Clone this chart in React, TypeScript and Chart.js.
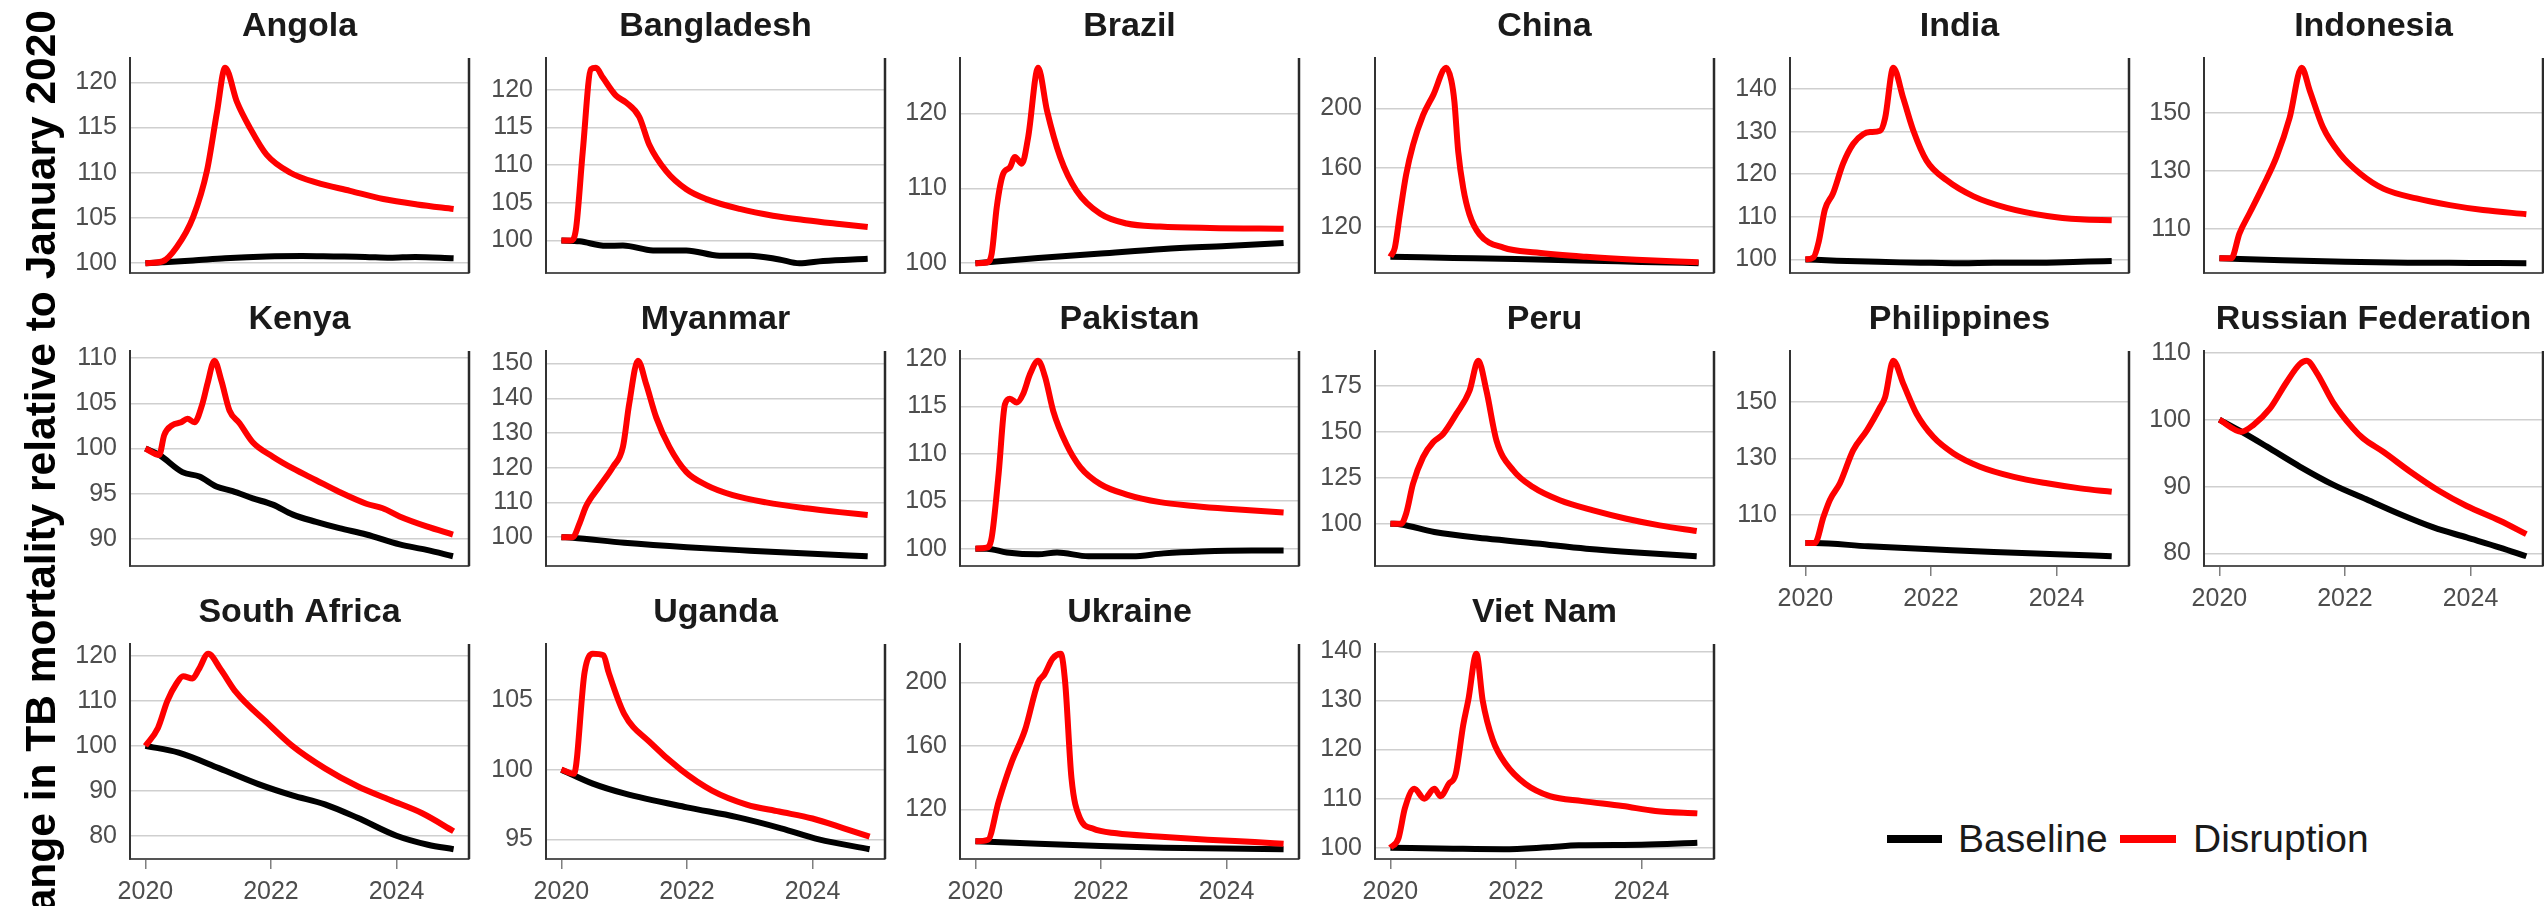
import React, { useEffect, useRef } from "react";
import { Chart, registerables } from "chart.js";

Chart.register(...registerables);

// ---------------- data ----------------
const countries = [
  "Angola", "Bangladesh", "Brazil", "China", "India", "Indonesia",
  "Kenya", "Myanmar", "Pakistan", "Peru", "Philippines", "Russian Federation",
  "South Africa", "Uganda", "Ukraine", "Viet Nam",
];
const seriesNames = ["Baseline", "Disruption"];
const xTickValues = [2020, 2022, 2024];
const yAxisTitle = "Change in TB mortality relative to January 2020";

const angolaYears = [2020.0, 2020.27, 2020.5, 2020.76, 2020.98, 2021.14, 2021.27, 2021.46, 2021.67, 2021.93, 2022.31, 2022.73, 2023.26, 2023.79, 2024.33, 2024.91];
const angolaDisruption = [100, 100.2, 101.8, 105.1, 110.2, 116.7, 121.6, 117.8, 114.9, 112.0, 110.0, 108.9, 108.0, 107.1, 106.5, 106.0];
const angolaBaseYears = [2020.0, 2020.27, 2020.76, 2021.27, 2021.93, 2022.5, 2023.0, 2023.5, 2023.9, 2024.3, 2024.91];
const angolaBaseline = [100, 100.1, 100.3, 100.55, 100.75, 100.8, 100.75, 100.7, 100.6, 100.7, 100.55];
const angolaTicks = [100, 105, 110, 115, 120];

const bangladeshYears = [2020.0, 2020.15, 2020.23, 2020.34, 2020.47, 2020.55, 2020.66, 2020.87, 2021.03, 2021.24, 2021.40, 2021.67, 2021.99, 2022.31, 2022.84, 2023.37, 2023.90, 2024.43, 2024.88];
const bangladeshDisruption = [100, 100, 101.4, 111.8, 122.7, 122.9, 121.6, 119.2, 118.3, 116.4, 112.7, 109.2, 106.8, 105.5, 104.2, 103.3, 102.7, 102.2, 101.8];
const bangladeshBaseYears = [2020.0, 2020.29, 2020.71, 2020.98, 2021.46, 2021.99, 2022.52, 2023.0, 2023.47, 2023.79, 2024.17, 2024.88];
const bangladeshBaseline = [100, 99.9, 99.3, 99.35, 98.7, 98.7, 98.0, 98.0, 97.5, 97.0, 97.3, 97.6];
const bangladeshTicks = [100, 105, 110, 115, 120];

const brazilYears = [2020.0, 2020.18, 2020.26, 2020.34, 2020.44, 2020.55, 2020.63, 2020.74, 2020.84, 2021.0, 2021.14, 2021.35, 2021.61, 2021.99, 2022.41, 2022.94, 2023.74, 2024.91];
const brazilDisruption = [100, 100.1, 101.3, 107.5, 111.9, 112.8, 114.2, 113.3, 116.8, 126.1, 120.4, 114.2, 109.7, 106.6, 105.3, 104.9, 104.7, 104.6];
const brazilBaseYears = [2020.0, 2021.0, 2022.0, 2023.0, 2024.0, 2024.91];
const brazilBaseline = [100, 100.7, 101.3, 101.9, 102.3, 102.7];
const brazilTicks = [100, 110, 120];

const chinaYears = [2020.0, 2020.07, 2020.15, 2020.25, 2020.36, 2020.52, 2020.68, 2020.89, 2020.97, 2021.02, 2021.08, 2021.16, 2021.26, 2021.42, 2021.80, 2022.33, 2023.12, 2023.92, 2024.91];
const chinaDisruption = [100, 106, 128.5, 155.3, 175.4, 195.5, 208.9, 227.5, 219, 204.5, 171, 146.4, 128.5, 115.1, 106.1, 102.8, 99.9, 97.9, 96.2];
const chinaBaseYears = [2020.0, 2021.0, 2022.0, 2023.0, 2024.0, 2024.91];
const chinaBaseline = [100, 99.2, 98.4, 97.5, 96.5, 95.6];
const chinaTicks = [120, 160, 200];

const indiaYears = [2020.0, 2020.13, 2020.21, 2020.31, 2020.44, 2020.60, 2020.76, 2020.92, 2021.03, 2021.19, 2021.27, 2021.40, 2021.56, 2021.72, 2021.93, 2022.25, 2022.68, 2023.21, 2023.85, 2024.38, 2024.88];
const indiaDisruption = [100, 100.5, 104, 111.7, 115.5, 122.5, 127.1, 129.4, 129.9, 130.2, 133.2, 145.0, 137.8, 130.2, 123.2, 118.6, 114.8, 112.1, 110.2, 109.4, 109.2];
const indiaBaseYears = [2020.0, 2020.5, 2021.0, 2021.5, 2022.0, 2022.5, 2023.0, 2023.5, 2024.0, 2024.5, 2024.88];
const indiaBaseline = [100, 99.7, 99.5, 99.3, 99.2, 99.1, 99.2, 99.2, 99.3, 99.5, 99.6];
const indiaTicks = [100, 110, 120, 130, 140];

const indonesiaYears = [2020.0, 2020.19, 2020.32, 2020.48, 2020.69, 2020.91, 2021.12, 2021.31, 2021.44, 2021.65, 2021.92, 2022.24, 2022.61, 2023.14, 2023.67, 2024.20, 2024.89];
const indonesiaDisruption = [100, 100, 108.6, 115.5, 124.6, 134.9, 148.5, 165.6, 157.7, 145.1, 136, 129.2, 124, 120.6, 118.3, 116.6, 115.2];
const indonesiaBaseYears = [2020.0, 2021.0, 2022.0, 2023.0, 2024.0, 2024.89];
const indonesiaBaseline = [100, 99.3, 98.8, 98.5, 98.4, 98.3];
const indonesiaTicks = [110, 130, 150];

const kenyaYears = [2020.0, 2020.22, 2020.30, 2020.43, 2020.57, 2020.67, 2020.78, 2020.91, 2020.99, 2021.10, 2021.21, 2021.34, 2021.50, 2021.71, 2022.03, 2022.35, 2022.72, 2023.09, 2023.52, 2023.78, 2024.05, 2024.48, 2024.90];
const kenyaDisruption = [100, 99.3, 101.5, 102.6, 102.9, 103.3, 102.9, 105, 107.2, 109.7, 107.5, 104.2, 102.8, 100.7, 99.1, 97.8, 96.5, 95.2, 93.9, 93.4, 92.5, 91.4, 90.5];
const kenyaBaseYears = [2020.0, 2020.22, 2020.59, 2020.86, 2021.13, 2021.39, 2021.71, 2022.03, 2022.35, 2022.72, 2023.09, 2023.52, 2024.05, 2024.48, 2024.90];
const kenyaBaseline = [100, 99.3, 97.4, 96.9, 95.8, 95.3, 94.5, 93.8, 92.7, 91.9, 91.2, 90.5, 89.4, 88.8, 88.1];
const kenyaTicks = [90, 95, 100, 105, 110];

const myanmarYears = [2020.0, 2020.18, 2020.29, 2020.39, 2020.60, 2020.82, 2020.98, 2021.08, 2021.22, 2021.35, 2021.51, 2021.72, 2021.99, 2022.31, 2022.73, 2023.26, 2023.90, 2024.43, 2024.88];
const myanmarDisruption = [100, 100, 104, 108.8, 114.5, 120.2, 126, 138.4, 150.8, 144.1, 134.5, 126, 118.8, 115, 112.1, 110, 108.3, 107.2, 106.4];
const myanmarBaseYears = [2020.0, 2020.18, 2021.0, 2022.0, 2023.0, 2024.0, 2024.88];
const myanmarBaseline = [100, 99.8, 98.4, 97.1, 96.1, 95.2, 94.5];
const myanmarTicks = [100, 110, 120, 130, 140, 150];

const pakistanYears = [2020.0, 2020.18, 2020.26, 2020.37, 2020.47, 2020.55, 2020.66, 2020.76, 2020.87, 2021.0, 2021.11, 2021.24, 2021.45, 2021.67, 2021.99, 2022.41, 2022.94, 2023.48, 2024.01, 2024.91];
const pakistanDisruption = [100, 100.1, 101.2, 107.9, 115.2, 115.8, 115.4, 116.3, 118.4, 119.8, 118.1, 114.5, 111, 108.6, 106.8, 105.7, 104.9, 104.5, 104.2, 103.8];
const pakistanBaseYears = [2020.0, 2020.18, 2020.5, 2021.0, 2021.3, 2021.8, 2022.5, 2023.0, 2023.6, 2024.4, 2024.91];
const pakistanBaseline = [100, 100, 99.6, 99.4, 99.6, 99.2, 99.2, 99.5, 99.7, 99.8, 99.8];
const pakistanTicks = [100, 105, 110, 115, 120];

const peruYears = [2020.0, 2020.17, 2020.25, 2020.36, 2020.52, 2020.68, 2020.84, 2021.05, 2021.26, 2021.40, 2021.53, 2021.69, 2021.96, 2022.27, 2022.70, 2023.23, 2023.76, 2024.29, 2024.88];
const peruDisruption = [100, 100, 105.4, 121.7, 136.2, 144.3, 148.8, 159.7, 172.3, 188.6, 172.3, 145.2, 128.9, 119.9, 112.7, 107.2, 102.7, 99.1, 96];
const peruBaseYears = [2020.0, 2020.17, 2020.70, 2021.53, 2022.33, 2023.12, 2023.92, 2024.88];
const peruBaseline = [100, 99.6, 95.5, 91.9, 89.2, 86.4, 84.3, 82.3];
const peruTicks = [100, 125, 150, 175];

const philippinesYears = [2020.0, 2020.15, 2020.29, 2020.39, 2020.55, 2020.76, 2020.98, 2021.19, 2021.27, 2021.40, 2021.56, 2021.77, 2022.04, 2022.36, 2022.78, 2023.32, 2023.85, 2024.38, 2024.88];
const philippinesDisruption = [100, 100, 109.4, 115.3, 121.2, 132.9, 140, 148.2, 151.8, 164.7, 156.5, 145.9, 137.6, 131.8, 127.1, 123.5, 121.2, 119.4, 118.2];
const philippinesBaseYears = [2020.0, 2020.15, 2021.0, 2022.0, 2023.0, 2024.0, 2024.88];
const philippinesBaseline = [100, 100, 98.8, 97.8, 96.8, 96.0, 95.3];
const philippinesTicks = [110, 130, 150];

const russiaYears = [2020.0, 2020.35, 2020.54, 2020.80, 2021.07, 2021.28, 2021.39, 2021.55, 2021.81, 2022.13, 2022.29, 2022.61, 2023.03, 2023.51, 2023.94, 2024.47, 2024.89];
const russiaDisruption = [100, 98.2, 99.2, 101.6, 105.6, 108.3, 108.8, 107, 102.6, 98.7, 97.2, 95.2, 92.3, 89.3, 87.1, 84.9, 82.9];
const russiaBaseYears = [2020.0, 2020.35, 2020.75, 2021.28, 2021.81, 2022.34, 2022.87, 2023.41, 2023.94, 2024.47, 2024.89];
const russiaBaseline = [100, 98.2, 96, 93, 90.3, 88.1, 85.9, 83.9, 82.4, 80.9, 79.6];
const russiaTicks = [80, 90, 100, 110];

const southAfricaYears = [2020.0, 2020.2, 2020.35, 2020.5, 2020.6, 2020.75, 2020.85, 2021.0, 2021.2, 2021.44, 2021.95, 2022.34, 2022.86, 2023.38, 2023.89, 2024.41, 2024.91];
const southAfricaDisruption = [100, 104, 110, 114, 115.5, 115, 117, 120.5, 117, 112, 105, 100, 95, 91, 88, 85, 81];
const southAfricaBaseYears = [2020.0, 2020.53, 2021.18, 2021.8, 2022.34, 2022.86, 2023.38, 2024.0, 2024.5, 2024.91];
const southAfricaBaseline = [100, 98.5, 95, 91.5, 89, 87, 84, 80, 78, 77];
const southAfricaTicks = [80, 90, 100, 110, 120];

const ugandaYears = [2020.0, 2020.2, 2020.37, 2020.5, 2020.67, 2020.75, 2021.0, 2021.4, 2021.9, 2022.4, 2022.95, 2023.47, 2024.0, 2024.5, 2024.91];
const ugandaDisruption = [100, 99.7, 107, 108.3, 108.2, 107, 104, 102, 100, 98.5, 97.5, 97, 96.5, 95.8, 95.2];
const ugandaBaseYears = [2020.0, 2020.5, 2021.0, 2022.0, 2022.8, 2023.5, 2024.1, 2024.91];
const ugandaBaseline = [100, 99, 98.3, 97.3, 96.6, 95.8, 95, 94.3];
const ugandaTicks = [95, 100, 105];

const ukraineYears = [2020.0, 2020.2, 2020.37, 2020.58, 2020.79, 2021.0, 2021.1, 2021.23, 2021.36, 2021.43, 2021.53, 2021.66, 2021.87, 2022.25, 2022.9, 2023.7, 2024.45, 2024.91];
const ukraineDisruption = [100, 101, 125, 150, 170, 200, 205, 215, 218, 200, 140, 115, 108, 105, 103, 101, 99.5, 98.5];
const ukraineBaseYears = [2020.0, 2021.0, 2022.0, 2023.0, 2024.0, 2024.91];
const ukraineBaseline = [100, 98.5, 97, 96, 95.5, 95];
const ukraineTicks = [120, 160, 200];

const vietNamYears = [2020.0, 2020.13, 2020.23, 2020.38, 2020.54, 2020.7, 2020.8, 2020.93, 2021.04, 2021.16, 2021.24, 2021.37, 2021.47, 2021.63, 2021.84, 2022.15, 2022.54, 2023.06, 2023.7, 2024.22, 2024.89];
const vietNamDisruption = [100, 102, 108, 112, 110, 112, 110.5, 113, 115, 125, 130, 139.5, 130, 122, 117, 113, 110.5, 109.5, 108.5, 107.5, 107];
const vietNamBaseYears = [2020.0, 2021.0, 2021.8, 2022.5, 2023.0, 2024.0, 2024.89];
const vietNamBaseline = [100, 99.8, 99.7, 100.1, 100.5, 100.6, 101];
const vietNamTicks = [100, 110, 120, 130, 140];

const panels = [
  { years: angolaYears, disr: angolaDisruption, baseYears: angolaBaseYears, base: angolaBaseline, ticks: angolaTicks },
  { years: bangladeshYears, disr: bangladeshDisruption, baseYears: bangladeshBaseYears, base: bangladeshBaseline, ticks: bangladeshTicks },
  { years: brazilYears, disr: brazilDisruption, baseYears: brazilBaseYears, base: brazilBaseline, ticks: brazilTicks },
  { years: chinaYears, disr: chinaDisruption, baseYears: chinaBaseYears, base: chinaBaseline, ticks: chinaTicks },
  { years: indiaYears, disr: indiaDisruption, baseYears: indiaBaseYears, base: indiaBaseline, ticks: indiaTicks },
  { years: indonesiaYears, disr: indonesiaDisruption, baseYears: indonesiaBaseYears, base: indonesiaBaseline, ticks: indonesiaTicks },
  { years: kenyaYears, disr: kenyaDisruption, baseYears: kenyaBaseYears, base: kenyaBaseline, ticks: kenyaTicks },
  { years: myanmarYears, disr: myanmarDisruption, baseYears: myanmarBaseYears, base: myanmarBaseline, ticks: myanmarTicks },
  { years: pakistanYears, disr: pakistanDisruption, baseYears: pakistanBaseYears, base: pakistanBaseline, ticks: pakistanTicks },
  { years: peruYears, disr: peruDisruption, baseYears: peruBaseYears, base: peruBaseline, ticks: peruTicks },
  { years: philippinesYears, disr: philippinesDisruption, baseYears: philippinesBaseYears, base: philippinesBaseline, ticks: philippinesTicks },
  { years: russiaYears, disr: russiaDisruption, baseYears: russiaBaseYears, base: russiaBaseline, ticks: russiaTicks },
  { years: southAfricaYears, disr: southAfricaDisruption, baseYears: southAfricaBaseYears, base: southAfricaBaseline, ticks: southAfricaTicks },
  { years: ugandaYears, disr: ugandaDisruption, baseYears: ugandaBaseYears, base: ugandaBaseline, ticks: ugandaTicks },
  { years: ukraineYears, disr: ukraineDisruption, baseYears: ukraineBaseYears, base: ukraineBaseline, ticks: ukraineTicks },
  { years: vietNamYears, disr: vietNamDisruption, baseYears: vietNamBaseYears, base: vietNamBaseline, ticks: vietNamTicks },
];

// ---------------- layout / style ----------------
const FONT = "'Liberation Sans', Arial, Helvetica, sans-serif";
const COL_LEFT = [130, 546, 960, 1375, 1790, 2204];
const ROW_TOP = [58, 351, 644];
const PLOT_W = 339;
const PLOT_H = 215;
const LW = 92;
const RP = 8;
const TITLE_H = 58;
const XAX_H = 50;
const RED = "#ff0000";
const BLACK = "#000000";
const LINE_W = 6;

const allYears = panels.flatMap((p) => [...p.years, ...p.baseYears]);
const xLo = Math.min(...allYears);
const xHi = Math.max(...allYears);
const X_MIN = xLo - (xHi - xLo) * 0.05;
const X_MAX = xHi + (xHi - xLo) * 0.05;

const rightBorder = {
  id: "rightBorder",
  afterDraw(chart: any) {
    const { ctx, chartArea: a } = chart;
    ctx.save();
    ctx.strokeStyle = "#2a2a2a";
    ctx.lineWidth = 2.5;
    ctx.beginPath();
    ctx.moveTo(a.right, a.top);
    ctx.lineTo(a.right, a.bottom);
    ctx.stroke();
    ctx.restore();
  },
};

function Panel({ index }: { index: number }) {
  const ref = useRef<HTMLCanvasElement>(null);
  const p = panels[index];
  const row = Math.floor(index / 6);
  const col = index % 6;
  const showX = row === 2 || (row === 1 && col >= 4);
  const width = LW + PLOT_W + RP;
  const height = TITLE_H + PLOT_H + XAX_H;

  useEffect(() => {
    const all = [...p.disr, ...p.base];
    const lo = Math.min(...all);
    const hi = Math.max(...all);
    const yMin = lo - (hi - lo) * 0.05;
    const yMax = hi + (hi - lo) * 0.05;
    const yTicks = p.ticks.filter((v) => v >= yMin && v <= yMax);

    const chart = new Chart(ref.current as HTMLCanvasElement, {
      type: "line",
      data: {
        datasets: [
          {
            label: seriesNames[1],
            data: p.years.map((x, i) => ({ x, y: p.disr[i] })),
            borderColor: RED,
            backgroundColor: RED,
            borderWidth: LINE_W,
            pointRadius: 0,
            cubicInterpolationMode: "monotone",
            borderJoinStyle: "round",
            fill: false,
          },
          {
            label: seriesNames[0],
            data: p.baseYears.map((x, i) => ({ x, y: p.base[i] })),
            borderColor: BLACK,
            backgroundColor: BLACK,
            borderWidth: LINE_W,
            pointRadius: 0,
            cubicInterpolationMode: "monotone",
            borderJoinStyle: "round",
            fill: false,
          },
        ],
      },
      options: {
        responsive: false,
        animation: false,
        devicePixelRatio: 1,
        layout: { padding: { left: 0, right: RP, top: 0, bottom: 0 } },
        plugins: {
          legend: { display: false },
          tooltip: { enabled: false },
          title: {
            display: true,
            text: countries[index],
            fullSize: false,
            color: "#1a1a1a",
            font: { family: FONT, size: 34, weight: "bold", lineHeight: 1.2 },
            padding: { top: 6, bottom: 11.2 },
          },
        },
        scales: {
          x: {
            type: "linear",
            min: X_MIN,
            max: X_MAX,
            afterBuildTicks: (s: any) => {
              s.ticks = xTickValues.map((v) => ({ value: v }));
            },
            afterFit: (s: any) => {
              s.height = XAX_H;
            },
            ticks: {
              display: showX,
              color: "#4d4d4d",
              font: { family: FONT, size: 25 },
              padding: 8,
              maxRotation: 0,
              autoSkip: false,
              callback: (v: any) => String(v),
            },
            grid: {
              display: showX,
              drawOnChartArea: false,
              drawTicks: true,
              tickLength: 10,
              color: "#7f7f7f",
              lineWidth: 1.5,
            },
            border: { display: true, color: "#555555", width: 2 },
          },
          y: {
            type: "linear",
            min: yMin,
            max: yMax,
            afterBuildTicks: (s: any) => {
              s.ticks = yTicks.map((v) => ({ value: v }));
            },
            afterFit: (s: any) => {
              s.width = LW;
            },
            ticks: {
              color: "#4d4d4d",
              font: { family: FONT, size: 25 },
              padding: 13,
              autoSkip: false,
              callback: (v: any) => String(v),
            },
            grid: {
              display: true,
              drawTicks: false,
              color: "#cfcfcf",
              lineWidth: 1.5,
            },
            border: { display: true, color: "#333333", width: 2 },
          },
        },
      } as any,
      plugins: [rightBorder],
    });
    return () => chart.destroy();
  }, []);

  return (
    <canvas
      ref={ref}
      width={width}
      height={height}
      style={{
        position: "absolute",
        left: COL_LEFT[col] - LW,
        top: ROW_TOP[row] - TITLE_H,
        width,
        height,
      }}
    />
  );
}

export default function App() {
  return (
    <div
      style={{
        position: "absolute",
        left: 0,
        top: 0,
        width: 2544,
        height: 906,
        overflow: "hidden",
        background: "#ffffff",
        fontFamily: FONT,
      }}
    >
      {panels.map((_, i) => (
        <Panel key={i} index={i} />
      ))}
      <div
        style={{
          position: "absolute",
          left: 41 - 550,
          top: 560 - 22,
          width: 1100,
          height: 44,
          lineHeight: "44px",
          fontSize: 42.5,
          fontWeight: "bold",
          color: "#000",
          textAlign: "right",
          whiteSpace: "nowrap",
          transform: "rotate(-90deg)",
          transformOrigin: "50% 50%",
        }}
      >
        {yAxisTitle}
      </div>
      <div style={{ position: "absolute", left: 1887, top: 835, width: 55, height: 8, background: BLACK }} />
      <div
        style={{ position: "absolute", left: 1958, top: 839 - 23, height: 46, lineHeight: "46px", fontSize: 39, color: "#1a1a1a", whiteSpace: "nowrap" }}
      >
        {seriesNames[0]}
      </div>
      <div style={{ position: "absolute", left: 2120, top: 835, width: 56, height: 8, background: RED }} />
      <div
        style={{ position: "absolute", left: 2193, top: 839 - 23, height: 46, lineHeight: "46px", fontSize: 39, color: "#1a1a1a", whiteSpace: "nowrap" }}
      >
        {seriesNames[1]}
      </div>
    </div>
  );
}
